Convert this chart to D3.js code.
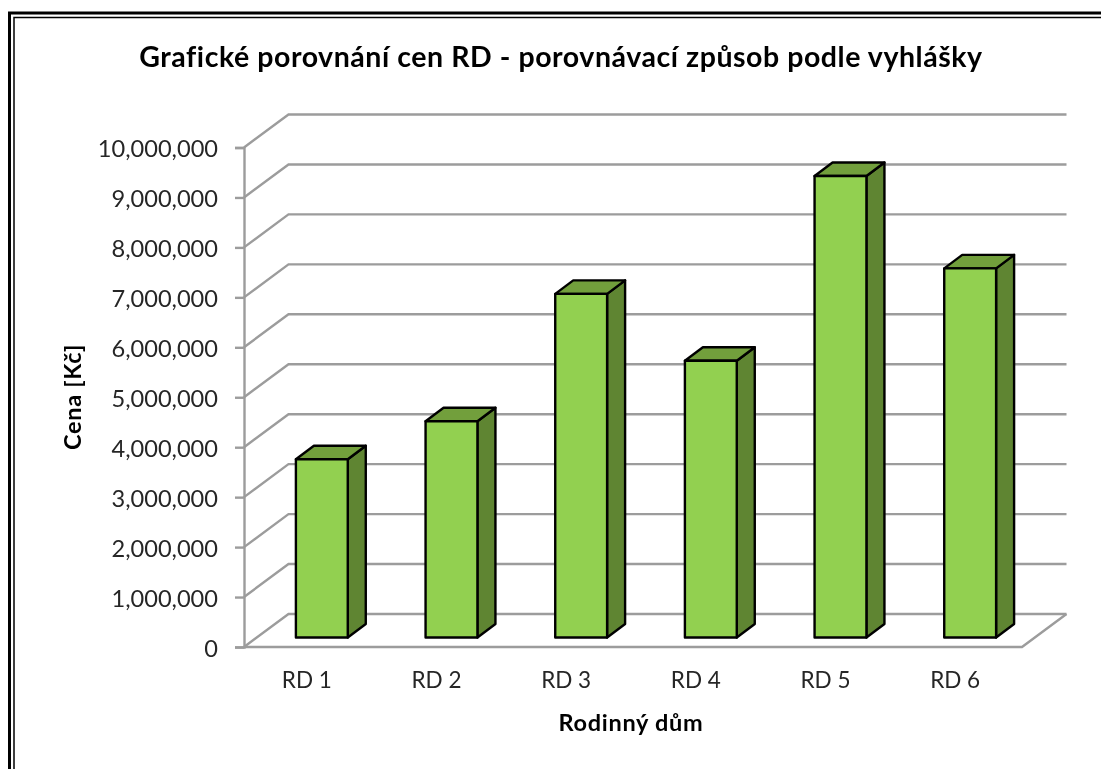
<!DOCTYPE html>
<html><head><meta charset="utf-8">
<script src="https://cdn.jsdelivr.net/npm/d3@7"></script>
<style>
html,body{margin:0;padding:0;background:#fff;overflow:hidden}
svg{display:block;filter:blur(0.5px)}
text{font-family:Lato,"Open Sans",sans-serif;fill:#262626}
</style></head><body>
<svg id="c" width="1101" height="769"></svg>
<script>
const categories=["RD 1","RD 2","RD 3","RD 4","RD 5","RD 6"];
const values=[3570000,4330000,6880000,5540000,9240000,7390000];
const yTicks=[0,1000000,2000000,3000000,4000000,5000000,6000000,7000000,8000000,9000000,10000000];
const titleText="Grafické porovnání cen RD - porovnávací způsob podle vyhlášky";
const yTitleText="Cena [Kč]";
const xTitleText="Rodinný dům";

const svg=d3.select("#c");
// frame
const frame=svg.append("g").attr("fill","none").attr("stroke","#000");
frame.append("path").attr("d","M9.5,780V13H1110").attr("stroke-width",3);
frame.append("path").attr("d","M14,780V17.5H1110").attr("stroke-width",1.5);

const x=d3.scaleBand().domain(categories).range([244,1022]).paddingInner(0.6).paddingOuter(0.3);
const y=d3.scaleLinear().domain([0,10000000]).range([647,147.5]);
const wallDx=44.5, wallDy=-33;           // full depth of the 3D box
const barDx=18, barDy=-13.5;             // depth of a column
const barOffX=13, barOffY=-9.5;          // column inset from the floor front edge
const grid="#9c9c9c";

const g=svg.append("g").attr("fill","none").attr("stroke",grid).attr("stroke-width",2.4);
// back wall and side wall gridlines
g.selectAll("path.grid").data(yTicks).join("path").attr("class","grid")
 .attr("d",d=>{
   const p=d3.path();
   p.moveTo(x.range()[0],y(d));
   p.lineTo(x.range()[0]+wallDx,y(d)+wallDy);
   p.lineTo(x.range()[1]+wallDx,y(d)+wallDy);
   return p.toString();
 });
// floor front edges
const floor=d3.path();
floor.moveTo(x.range()[0],y(0));
floor.lineTo(x.range()[1],y(0));
floor.lineTo(x.range()[1]+wallDx,y(0)+wallDy);
g.append("path").attr("d",floor.toString());

// y axis
const axisY=d3.axisLeft(y).tickValues(yTicks).tickFormat(d3.format(",")).tickSize(9).tickPadding(17);
const ay=svg.append("g").attr("transform",`translate(${x.range()[0]},0)`).call(axisY);
ay.selectAll("path,line").attr("stroke",grid).attr("stroke-width",2.4);
ay.selectAll("text").attr("font-size",23.6).attr("font-family","Lato").attr("fill","#262626").attr("dy","0.4em");

// x labels
svg.append("g").selectAll("text").data(categories).join("text")
 .attr("x",d=>x(d)+x.bandwidth()/2-2).attr("y",688)
 .attr("text-anchor","middle").attr("font-size",22.5).text(d=>d);

// bars
const bars=svg.append("g").selectAll("g").data(categories.map((c,i)=>({c,v:values[i]}))).join("g")
 .attr("stroke","#000").attr("stroke-width",2.4).attr("stroke-linejoin","round");
const base=y(0)+barOffY;
const h=d=>y(0)-y(d.v);
bars.append("path").attr("fill","#5f8532").attr("d",d=>{
  const l=x(d.c)+barOffX+x.bandwidth(), t=base-h(d), p=d3.path();
  p.moveTo(l,t);p.lineTo(l+barDx,t+barDy);p.lineTo(l+barDx,base+barDy);p.lineTo(l,base);p.closePath();
  return p.toString();
});
bars.append("path").attr("fill","#729f3c").attr("d",d=>{
  const l=x(d.c)+barOffX, r=l+x.bandwidth(), t=base-h(d), p=d3.path();
  p.moveTo(l,t);p.lineTo(l+barDx,t+barDy);p.lineTo(r+barDx,t+barDy);p.lineTo(r,t);p.closePath();
  return p.toString();
});
bars.append("rect").attr("fill","#92d050")
 .attr("x",d=>x(d.c)+barOffX).attr("y",d=>base-h(d))
 .attr("width",x.bandwidth()).attr("height",d=>h(d));

// titles
svg.append("text").attr("x",561).attr("y",67).attr("text-anchor","middle")
 .attr("font-size",28.5).attr("letter-spacing","0.55px").attr("font-weight",700).style("fill","#000").text(titleText);
svg.append("text").attr("x",631).attr("y",731).attr("text-anchor","middle")
 .attr("font-size",23.5).attr("letter-spacing","0.7px").attr("font-weight",700).style("fill","#000").text(xTitleText);
svg.append("text").attr("transform","translate(81,397) rotate(-90)").attr("text-anchor","middle")
 .attr("font-size",23.5).attr("letter-spacing","0.7px").attr("font-weight",700).style("fill","#000").text(yTitleText);
</script>
</body></html>
